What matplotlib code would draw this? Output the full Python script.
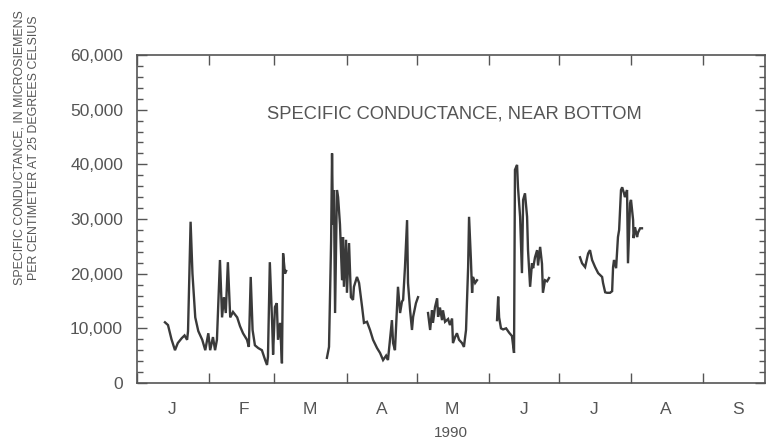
import numpy as np
import matplotlib
matplotlib.use('Agg')
import matplotlib.pyplot as plt
import matplotlib.dates as mdates
from matplotlib.ticker import MultipleLocator, FuncFormatter

# days after 1990-01-01 (fractional) and specific conductance, NaN marks gaps in record
days = [
    12.0, 13.3, 14.8, 16.3, 17.5, 19.2, 20.4, 21.5, 21.9, 23.0, 23.8, 25.0,
    26.3, 28.0, 29.3, 30.6, 31.4, 32.6, 33.5, 34.3, 35.6, 36.5, 37.3, 38.1,
    39.0, 40.0, 41.2, 43.0, 44.2, 45.5, 47.2, 48.0, 48.8, 49.6, 50.6, 52.0,
    53.6, 55.0, 55.8, 56.2, 57.0, 58.0, 58.4, 59.2, 60.0, 60.5, 61.4, 62.2,
    62.7, 63.5, 64.0,
    np.nan,
    81.5, 82.4, 83.3, 83.7, 84.1, 84.5, 85.0, 85.8, 86.3, 87.1, 88.0, 88.4,
    88.8, 89.7, 90.1, 91.0, 91.8, 92.7, 93.1, 94.4, 95.3, 96.6, 97.4, 98.7,
    100.0, 101.3, 103.0, 104.3, 105.6, 106.9, 107.7, 109.4, 109.9, 110.7,
    112.0, 112.9, 113.7, 114.2, 115.0, 115.9, 116.3, 117.2, 118.0, 118.5,
    119.7, 120.6,
    np.nan,
    124.9, 125.8, 126.6, 127.0, 127.9, 128.8, 129.2, 130.0, 130.9, 131.3,
    132.2, 133.5, 134.3, 135.2, 135.6, 136.5, 137.3, 138.2, 139.5, 140.3,
    141.2, 142.1, 142.5, 143.3, 143.8, 144.2, 145.1, 145.9,
    np.nan,
    154.5, 155.0, 155.4, 156.2, 157.1, 158.4, 159.7, 160.9, 161.8, 162.2,
    163.1, 163.5, 164.4, 165.2, 165.7, 166.5, 167.4, 167.8, 168.7, 169.5,
    170.0, 170.8, 171.7, 172.1, 173.0, 173.8, 174.2, 175.1, 176.0, 176.8,
    np.nan,
    190.1, 191.0, 192.3, 193.6, 194.4, 195.3, 196.6, 197.9, 199.6, 200.0,
    200.9, 201.7, 203.0, 203.9, 204.3, 204.7, 205.6, 206.4, 206.9, 207.7,
    208.2, 209.0, 209.4, 210.3, 210.7, 211.6, 212.0, 212.9, 213.1, 213.7,
    214.6, 215.0, 215.9, 216.7,
]
conductance = [
    11100, 10600, 8000, 6000, 7300, 8200, 8700, 7900, 9500, 29500, 20000, 12000,
    9500, 7900, 6000, 9100, 6000, 8400, 6000, 7900, 22500, 12000, 15700, 12800,
    22100, 12000, 13000, 12000, 10400, 9100, 7900, 6600, 19400, 9700, 6900, 6400,
    6000, 4200, 3300, 4800, 22100, 11000, 5200, 13900, 14600, 7900, 11000, 3600,
    23700, 20000, 20500,
    np.nan,
    4600, 6600, 26000, 42000, 29000, 35300, 12800, 35300, 34000, 29000, 18800, 26700,
    17600, 26200, 16500, 25600, 15700, 15200, 17600, 19400, 18300, 13900, 11000, 11200,
    9700, 7900, 6400, 5500, 4200, 5000, 4200, 11500, 7300, 6000,
    17600, 12800, 14900, 15200, 21200, 29800, 18300, 13300, 9700, 12100,
    14600, 15700,
    np.nan,
    12800, 9700, 13300, 11000, 13900, 15500, 12100, 13800, 11500, 13300,
    11200, 11700, 10600, 11800, 7300, 8400, 9100, 7900, 7300, 6600,
    9700, 21200, 30400, 22500, 16500, 19400, 18300, 18800,
    np.nan,
    11500, 15800, 12000, 10000, 9800, 10000, 9200, 8600, 5500, 39000,
    39900, 35800, 30400, 20100, 33500, 34700, 30400, 24300, 17600, 21900,
    21000, 23000, 24300, 21500, 24900, 21800, 16500, 18800, 18600, 19200,
    np.nan,
    23000, 21900, 21200, 23700, 24300, 22500, 21200, 20100, 19400, 18300,
    16600, 16500, 16500, 16800, 21200, 22500, 21000, 26700, 28000, 35300,
    35800, 34700, 34000, 35300, 21900, 32900, 33500, 29800, 26500, 28500,
    26700, 27500, 28300, 28300,
]
month_letters = ['J', 'F', 'M', 'A', 'M', 'J', 'J', 'A', 'S']
title_text = 'SPECIFIC CONDUCTANCE, NEAR BOTTOM'
ylabel_text = ('SPECIFIC CONDUCTANCE, IN MICROSIEMENS\n'
               'PER CENTIMETER AT 25 DEGREES CELSIUS')


def main():
    plt.rcParams['font.family'] = ['Liberation Sans', 'DejaVu Sans']
    ink = '#555555'
    start = np.datetime64('1990-01-01T00:00')
    x = [start + np.timedelta64(int(round(d * 1440)), 'm') if not np.isnan(d)
         else np.datetime64('NaT') for d in days]
    x = np.array(x, dtype='datetime64[m]')
    y = np.array(conductance, dtype=float)

    fig = plt.figure(figsize=(7.66, 4.42), dpi=100)
    ax = fig.add_axes([137 / 766, 59 / 442, 628 / 766, 328 / 442])
    ax.plot(x, y, color='#3a3a3a', linewidth=1.7, solid_joinstyle='miter')

    ax.set_xlim(np.datetime64('1990-01-01'), np.datetime64('1990-09-27T12:00'))
    ax.set_ylim(0, 60000)

    ax.xaxis.set_major_locator(mdates.MonthLocator())
    ax.xaxis.set_major_formatter(plt.NullFormatter())
    ax.xaxis.set_minor_locator(mdates.MonthLocator(bymonthday=16))
    ax.xaxis.set_minor_formatter(FuncFormatter(
        lambda v, pos: month_letters[mdates.num2date(v).month - 1]
        if mdates.num2date(v).month <= len(month_letters) else ''))
    ax.tick_params(axis='x', which='major', direction='in', length=7, width=1,
                   top=True, bottom=True, color=ink)
    ax.tick_params(axis='x', which='minor', length=0, pad=14, labelsize=12.5,
                   labelcolor=ink)

    ax.yaxis.set_major_locator(MultipleLocator(10000))
    ax.yaxis.set_minor_locator(MultipleLocator(2000))
    ax.yaxis.set_major_formatter(FuncFormatter(lambda v, pos: f'{int(v):,}'))
    ax.tick_params(axis='y', which='major', direction='in', length=7, width=1,
                   left=True, right=True, color=ink, labelsize=12.5,
                   labelcolor=ink, pad=10)
    ax.tick_params(axis='y', which='minor', direction='in', length=4, width=1,
                   left=True, right=True, color=ink)

    for spine in ax.spines.values():
        spine.set_color(ink)
        spine.set_linewidth(1.2)

    ax.text(0.505, 0.82, title_text, transform=ax.transAxes, ha='center',
            va='center', fontsize=13.2, color=ink)
    ax.set_xlabel('1990', fontsize=11, color=ink, labelpad=6)
    fig.text(27 / 766, 1 - 148 / 442, ylabel_text, rotation=90, ha='center',
             va='center', multialignment='center', fontsize=8.9, color=ink,
             linespacing=1.3)

    fig.savefig('out.png', dpi=100)


if __name__ == '__main__':
    main()
